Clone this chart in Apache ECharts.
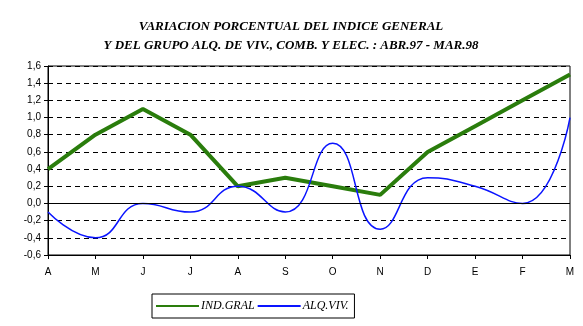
<!DOCTYPE html>
<html><head><meta charset="utf-8">
<script src="https://cdn.jsdelivr.net/npm/echarts@6/dist/echarts.min.js"></script>
<style>html,body{margin:0;padding:0;background:#fff}#c{width:583px;height:326px}</style>
</head><body><div id="c"></div>
<script>
var titleLines = ['VARIACION PORCENTUAL DEL INDICE GENERAL', 'Y DEL GRUPO ALQ. DE VIV., COMB. Y ELEC. : ABR.97 - MAR.98'];
var months = ['A','M','J','J','A','S','O','N','D','E','F','M'];
var indGral = [0.4, 0.8, 1.1, 0.8, 0.2, 0.3, 0.2, 0.1, 0.6, 0.9, 1.2, 1.5];
var alqViv = [-0.1, -0.4, 0.0, -0.1, 0.2, -0.1, 0.7, -0.3, 0.3, 0.2, 0.0, 1.0];
var seriesNames = ['IND.GRAL', 'ALQ.VIV.'];

var chart = echarts.init(document.getElementById('c'), null, {renderer:'canvas'});
chart.setOption({
  animation: false,
  backgroundColor: '#fff',
  title: {
    text: titleLines.join('\n'),
    left: 286, top: 12, textAlign: 'center',
    textStyle: {fontFamily: '"Liberation Serif", "Times New Roman", serif', fontStyle: 'italic', fontWeight: 'bold', fontSize: 13, lineHeight: 19, color: '#000'}
  },
  grid: {left: 48, right: 13, top: 66, bottom: 71, show: true, borderColor: '#000', borderWidth: 1, backgroundColor: 'transparent'},
  legend: {
    left: 152, top: 294, width: 206, height: 22,
    padding: [6, 6, 6, 3],
    borderColor: '#000', borderWidth: 1,
    itemWidth: 43, itemHeight: 10, itemGap: 2,
    icon: 'inherit',
    itemStyle: {opacity: 0},
    data: seriesNames.map(function(n){return {name: n};}),
    textStyle: {fontFamily: '"Liberation Serif", "Times New Roman", serif', fontStyle: 'italic', fontSize: 12, color: '#000', padding: [0,0,0,-3]}
  },
  xAxis: {
    type: 'category', data: months, boundaryGap: false,
    axisLine: {onZero: false, lineStyle: {color: '#000', width: 1}},
    axisTick: {show: true, alignWithLabel: true, length: 4, lineStyle: {color: '#000'}},
    axisLabel: {color: '#000', fontFamily: '"Liberation Sans", Arial, sans-serif', fontSize: 10, margin: 12, interval: 0},
    splitLine: {show: false}
  },
  yAxis: {
    type: 'value', min: -0.6, max: 1.6, interval: 0.2,
    axisLine: {show: true, lineStyle: {color: '#000'}},
    axisTick: {show: true, length: 4, lineStyle: {color: '#000'}},
    axisLabel: {color: '#000', fontFamily: '"Liberation Sans", Arial, sans-serif', fontSize: 10, margin: 7,
      formatter: function(v){ return (Math.round(v*10)/10).toFixed(1).replace('.', ','); }},
    splitLine: {show: true, lineStyle: {color: '#000', type: [5, 4], width: 1}}
  },
  series: [
    {
      name: seriesNames[0], type: 'line', data: indGral, symbol: 'none',
      lineStyle: {color: '#2a7d0c', width: 4}, itemStyle: {color: '#2a7d0c'}, z: 3,
      markLine: {silent: true, symbol: 'none', label: {show: false}, lineStyle: {color: '#000', type: 'solid', width: 1},
        data: [{yAxis: 0}], animation: false}
    },
    {
      name: seriesNames[1], type: 'line', data: alqViv, symbol: 'none', smooth: 0.5,
      lineStyle: {color: '#0a14ff', width: 1.5}, itemStyle: {color: '#0a14ff'}, z: 4
    }
  ]
});
</script></body></html>
